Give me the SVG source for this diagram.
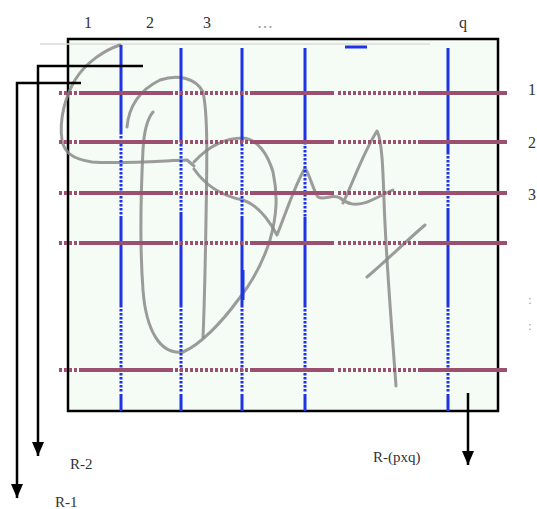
<svg xmlns="http://www.w3.org/2000/svg" width="537" height="509" viewBox="0 0 537 509">
<style>
.lbl{font-family:"Liberation Serif",serif;font-size:16px;fill:#333}
.sig{fill:none;stroke:#8a8a8a;stroke-width:3;stroke-linecap:round;stroke-linejoin:round;opacity:0.85}
.h{stroke:#9c5070;stroke-width:4}
.hd{stroke:#9c5070;stroke-width:4;stroke-dasharray:3 2}
.v{stroke:#1f33e6;stroke-width:3}
.vd{stroke:#1f33e6;stroke-width:3;stroke-dasharray:2.5 1.5}
.blk{stroke:#000;stroke-width:2.5;fill:none}
</style>
<defs>
<marker id="ah" markerWidth="14" markerHeight="12" refX="14" refY="6" orient="auto" markerUnits="userSpaceOnUse" viewBox="0 0 14 12">
<path d="M0,0 L14,6 L0,12 Z" fill="#000"/>
</marker>
</defs>
<rect width="537" height="509" fill="#fff"/>
<g id="frame">
<rect x="68" y="39" width="430" height="372" fill="#f5fbf5" stroke="#000" stroke-width="2.5"/>
<line x1="40" y1="44" x2="430" y2="44" stroke="#dcdcdc" stroke-width="1.5"/>
</g>
<g id="signature">
<path class="sig" d="M120,45 C105,50 86,62 75,80 C65,97 59,120 62,140 C64,152 72,159 92,162 C120,164 160,161 187,160 L194,166"/>
<path class="sig" d="M194,162 C205,150 222,138 243,138 C258,139 268,155 273,172 C278,195 277,215 270,240 C262,265 250,285 238,300 C222,322 200,345 183,352 C160,355 146,330 143,290 C140,250 141,190 143,150 C144,130 148,118 153,112"/>
<path class="sig" d="M127,127 C129,105 140,90 160,80 C178,74 196,78 203,92 C208,115 207,160 206,220 C205,280 204,315 203,337"/>
<path class="sig" d="M194,169 C205,185 222,196 243,200 C258,205 268,218 277,235 C285,215 295,185 305,168 C310,175 313,190 318,197 C325,201 332,193 340,198 C346,203 355,208 372,200 C385,194 392,190 393,190 M343,203 C352,185 362,155 377,131 C382,140 383,170 384,200 C386,260 392,330 396,386"/>
<path class="sig" d="M367,277 C385,262 405,242 425,225"/>
</g>
<g id="columns">
<line class="v" x1="121" y1="45" x2="121" y2="132" stroke-width="4"/>
<line class="vd" x1="121" y1="132" x2="121" y2="217" stroke-width="4"/>
<line class="v" x1="121" y1="217" x2="121" y2="305" stroke-width="4"/>
<line class="vd" x1="121" y1="305" x2="121" y2="392" stroke-width="4"/>
<line class="v" x1="121" y1="394" x2="121" y2="411" stroke-width="4"/>

<line class="v" x1="181" y1="48" x2="181" y2="140"/>
<line class="vd" x1="181" y1="140" x2="181" y2="212"/>
<line class="v" x1="181" y1="212" x2="181" y2="305"/>
<line class="vd" x1="181" y1="305" x2="181" y2="392"/>
<line class="v" x1="181" y1="394" x2="181" y2="411"/>

<line class="v" x1="242" y1="48" x2="242" y2="140"/>
<line class="vd" x1="242" y1="140" x2="242" y2="217"/>
<line class="v" x1="242" y1="217" x2="242" y2="305"/>
<line class="v" x1="243" y1="270" x2="243" y2="300" stroke-width="4"/>
<line class="vd" x1="242" y1="305" x2="242" y2="392"/>
<line class="v" x1="242" y1="394" x2="242" y2="411"/>

<line class="v" x1="305" y1="48" x2="305" y2="142"/>
<line class="vd" x1="305" y1="142" x2="305" y2="217"/>
<line class="v" x1="305" y1="217" x2="305" y2="305"/>
<line class="vd" x1="305" y1="305" x2="305" y2="392"/>
<line class="v" x1="305" y1="394" x2="305" y2="411"/>

<line class="v" x1="448" y1="48" x2="448" y2="152" stroke-width="4"/>
<line class="vd" x1="448" y1="152" x2="448" y2="210" stroke-width="4"/>
<line class="v" x1="448" y1="210" x2="448" y2="305" stroke-width="4"/>
<line class="vd" x1="448" y1="305" x2="448" y2="392" stroke-width="4"/>
<line class="v" x1="448" y1="394" x2="448" y2="411" stroke-width="4"/>

<line class="v" x1="345" y1="47" x2="367" y2="47"/>
</g>
<g id="rows">
<g id="row1">
<line class="hd" x1="59" y1="93" x2="82" y2="93"/><line class="h" x1="82" y1="93" x2="170" y2="93"/><line class="hd" x1="170" y1="93" x2="250" y2="93"/><line class="h" x1="250" y1="93" x2="334" y2="93"/><line class="hd" x1="338" y1="93" x2="418" y2="93"/><line class="h" x1="418" y1="93" x2="507" y2="93"/>
</g>
<g id="row2">
<line class="hd" x1="59" y1="142" x2="82" y2="142"/><line class="h" x1="82" y1="142" x2="170" y2="142"/><line class="hd" x1="170" y1="142" x2="250" y2="142"/><line class="h" x1="250" y1="142" x2="334" y2="142"/><line class="hd" x1="338" y1="142" x2="418" y2="142"/><line class="h" x1="418" y1="142" x2="507" y2="142"/>
</g>
<g id="row3">
<line class="hd" x1="59" y1="193" x2="82" y2="193"/><line class="h" x1="82" y1="193" x2="170" y2="193"/><line class="hd" x1="170" y1="193" x2="250" y2="193"/><line class="h" x1="250" y1="193" x2="334" y2="193"/><line class="hd" x1="338" y1="193" x2="418" y2="193"/><line class="h" x1="418" y1="193" x2="507" y2="193"/>
</g>
<g id="row4">
<line class="hd" x1="59" y1="243" x2="82" y2="243"/><line class="h" x1="82" y1="243" x2="170" y2="243"/><line class="hd" x1="170" y1="243" x2="250" y2="243"/><line class="h" x1="250" y1="243" x2="334" y2="243"/><line class="hd" x1="338" y1="243" x2="418" y2="243"/><line class="h" x1="418" y1="243" x2="507" y2="243"/>
</g>
<g id="rowp">
<line class="hd" x1="59" y1="370" x2="82" y2="370"/><line class="h" x1="82" y1="370" x2="170" y2="370"/><line class="hd" x1="170" y1="370" x2="250" y2="370"/><line class="h" x1="250" y1="370" x2="334" y2="370"/><line class="hd" x1="338" y1="370" x2="418" y2="370"/><line class="h" x1="418" y1="370" x2="507" y2="370"/>
</g>
</g>
<g id="connectors">
<path class="blk" d="M143,66 L38,66 L38,456" marker-end="url(#ah)"/>
<path class="blk" d="M81,83 L17,83 L17,498" marker-end="url(#ah)"/>
<path class="blk" d="M468,393 L468,465" marker-end="url(#ah)"/>
</g>
<g id="labels">
<text class="lbl" x="88" y="28" text-anchor="middle">1</text>
<text class="lbl" x="150" y="28" text-anchor="middle">2</text>
<text class="lbl" x="207" y="28" text-anchor="middle">3</text>
<text class="lbl" x="265" y="28" text-anchor="middle" style="fill:#999">…</text>
<text class="lbl" x="463" y="28" text-anchor="middle">q</text>
<text class="lbl" x="532" y="95" text-anchor="middle">1</text>
<text class="lbl" x="532" y="148" text-anchor="middle">2</text>
<text class="lbl" x="532" y="200" text-anchor="middle">3</text>
<text class="lbl" x="530" y="304" text-anchor="middle" style="fill:#999;font-size:12px">:</text>
<text class="lbl" x="530" y="330" text-anchor="middle" style="fill:#999;font-size:12px">:</text>
<text class="lbl" x="70" y="469" style="font-size:15px">R-2</text>
<text class="lbl" x="55" y="507" style="font-size:15px">R-1</text>
<text class="lbl" x="373" y="462" style="font-size:15px">R-(pxq)</text>
</g>
</svg>
